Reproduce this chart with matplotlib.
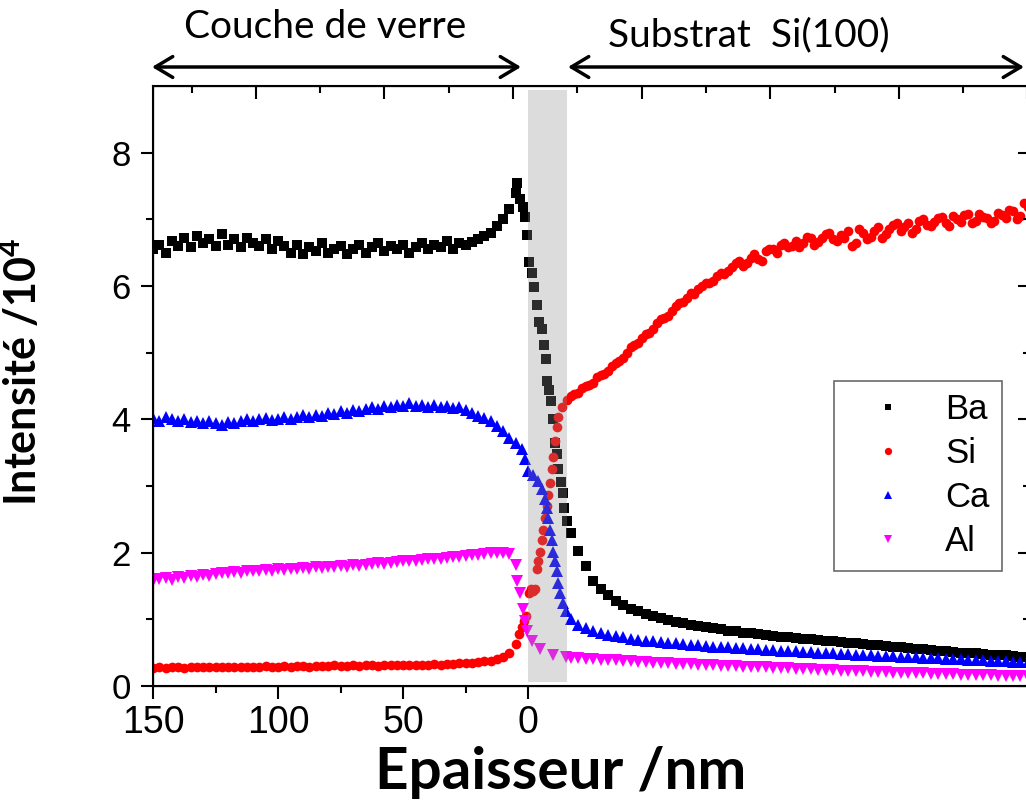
import numpy as np
import matplotlib
matplotlib.use('Agg')
import matplotlib.pyplot as plt
from matplotlib.ticker import FixedLocator, NullFormatter

plt.rcParams['font.family'] = ['Liberation Sans', 'DejaVu Sans']
plt.rcParams['mathtext.default'] = 'regular'

# depth positions (nm): glass side is positive, substrate side negative
x_glass = np.arange(150, 4, -2.5)        # 150 ... 5  (59 points)
x_sub = np.arange(-17, -201, -3)         # -17 ... -200 (62 points)

# ---- Ba ----
ba_glass = [6.55, 6.62, 6.50, 6.68, 6.60, 6.72, 6.58, 6.75, 6.65, 6.70,
            6.60, 6.78, 6.62, 6.70, 6.58, 6.72, 6.65, 6.60, 6.70, 6.55,
            6.68, 6.60, 6.50, 6.62, 6.48, 6.58, 6.52, 6.65, 6.50, 6.55,
            6.60, 6.48, 6.56, 6.62, 6.50, 6.58, 6.64, 6.52, 6.60, 6.55,
            6.62, 6.50, 6.58, 6.65, 6.55, 6.62, 6.58, 6.68, 6.55, 6.65,
            6.62, 6.66, 6.70, 6.75, 6.80, 6.90, 7.00, 7.15, 7.40]
x_ba_mid = [4.5, 3.2, 2.1, 1.2, 0.3, -0.5, -1.6, -2.4, -3.5, -4.5, -5.5, -6.4,
            -7.2, -7.7, -8.4, -9.1, -9.9, -10.8, -11.5, -12.1, -13.1, -13.9,
            -14.5, -15.7]
ba_mid = [7.54, 7.31, 7.19, 7.03, 6.77, 6.36, 6.20, 5.99, 5.71, 5.46, 5.36, 5.11,
          4.91, 4.58, 4.44, 4.28, 4.01, 3.64, 3.48, 3.26, 3.06, 2.90,
          2.67, 2.47]
ba_sub = [2.30, 2.02, 1.80, 1.58, 1.45, 1.36, 1.28, 1.22, 1.16, 1.12,
          1.08, 1.05, 1.02, 0.99, 0.96, 0.94, 0.92, 0.90, 0.89, 0.87,
          0.85, 0.83, 0.82, 0.80, 0.79, 0.78, 0.77, 0.75, 0.74, 0.73,
          0.72, 0.71, 0.70, 0.69, 0.68, 0.67, 0.66, 0.65, 0.64, 0.63,
          0.62, 0.61, 0.60, 0.59, 0.58, 0.57, 0.56, 0.55, 0.54, 0.53,
          0.52, 0.51, 0.50, 0.50, 0.49, 0.48, 0.47, 0.46, 0.46, 0.45,
          0.44, 0.43]

# ---- Si ----
si_glass = [0.27, 0.28, 0.27, 0.28, 0.28, 0.27, 0.28, 0.28, 0.28, 0.29,
            0.28, 0.29, 0.28, 0.29, 0.29, 0.28, 0.29, 0.29, 0.30, 0.29,
            0.29, 0.30, 0.29, 0.30, 0.30, 0.29, 0.30, 0.30, 0.30, 0.31,
            0.30, 0.30, 0.31, 0.30, 0.31, 0.31, 0.30, 0.31, 0.31, 0.32,
            0.31, 0.32, 0.31, 0.32, 0.32, 0.33, 0.32, 0.33, 0.33, 0.34,
            0.34, 0.35, 0.36, 0.37, 0.38, 0.40, 0.43, 0.50, 0.63]
x_si_mid = [3.5, 2.5, 1.5, 0.8, -0.3, -1.2, -2.0, -2.8, -3.5, -4.1, -4.8, -5.5,
            -6.1, -6.8, -7.5, -8.1, -8.8, -9.5, -10.1, -10.8, -11.5, -12.1,
            -13.5, -15.5]
si_mid = [0.78, 0.88, 0.98, 1.05, 1.40, 1.45, 1.42, 1.46, 1.75, 1.87, 2.01, 2.19,
          2.34, 2.52, 2.70, 2.87, 3.05, 3.26, 3.43, 3.67, 3.88, 4.03,
          4.18, 4.29]
si_sub = [4.35, 4.40, 4.50, 4.55, 4.66, 4.72, 4.85, 4.92, 5.08, 5.15,
          5.28, 5.35, 5.50, 5.55, 5.70, 5.76, 5.90, 5.95, 6.05, 6.08,
          6.20, 6.22, 6.35, 6.30, 6.42, 6.40, 6.52, 6.55, 6.62, 6.58,
          6.68, 6.64, 6.72, 6.66, 6.78, 6.70, 6.76, 6.82, 6.65, 6.80,
          6.74, 6.88, 6.78, 6.92, 6.82, 6.95, 6.86, 7.00, 6.90, 7.02,
          6.94, 7.05, 6.96, 7.08, 6.98, 7.04, 6.95, 7.10, 7.02, 7.12,
          7.05, 7.18]
# second, interleaved set of Si readings in the substrate (noisy cloud)
si_sub2 = [4.38, 4.47, 4.52, 4.63, 4.68, 4.80, 4.88, 5.00, 5.12, 5.22,
           5.30, 5.45, 5.52, 5.62, 5.74, 5.82, 5.88, 6.00, 6.04, 6.15,
           6.18, 6.28, 6.38, 6.34, 6.48, 6.38, 6.56, 6.50, 6.65, 6.60,
           6.58, 6.74, 6.62, 6.72, 6.80, 6.68, 6.72, 6.60, 6.86, 6.70,
           6.82, 6.72, 6.86, 6.94, 6.88, 6.80, 6.98, 6.92, 6.96, 7.04,
           6.90, 7.00, 7.06, 6.95, 7.08, 7.02, 6.98, 7.06, 7.14, 7.00,
           7.25]
x_si_sub2 = -18.5 - 3 * np.arange(len(si_sub2))

# ---- Ca ----
ca_glass = [4.02, 3.98, 4.04, 4.00, 3.97, 4.00, 3.96, 3.98, 3.94, 3.97,
            3.95, 3.92, 3.96, 3.94, 3.98, 4.00, 3.97, 4.00, 4.02, 3.99,
            4.01, 4.03, 4.00, 4.04, 4.06, 4.03, 4.07, 4.05, 4.09, 4.08,
            4.12, 4.10, 4.14, 4.12, 4.16, 4.18, 4.15, 4.20, 4.18, 4.22,
            4.20, 4.24, 4.20, 4.22, 4.19, 4.21, 4.18, 4.20, 4.17, 4.18,
            4.14, 4.10, 4.05, 4.02, 3.98, 3.90, 3.82, 3.72, 3.64]
x_ca_mid = [2.5, 1.2, -0.1, -2.1, -4.1, -5.5, -6.8, -7.5, -8.1, -8.8, -9.5,
            -10.1, -10.8, -11.5, -12.1, -12.8, -13.9, -15.2]
ca_mid = [3.56, 3.40, 3.23, 3.17, 3.08, 2.96, 2.81, 2.67, 2.52, 2.34, 2.19,
          2.01, 1.87, 1.72, 1.54, 1.39, 1.24, 1.12]
ca_sub = [1.00, 0.92, 0.87, 0.83, 0.80, 0.77, 0.75, 0.73, 0.71, 0.69,
          0.68, 0.67, 0.66, 0.65, 0.64, 0.63, 0.62, 0.61, 0.60, 0.59,
          0.585, 0.58, 0.57, 0.565, 0.56, 0.55, 0.545, 0.54, 0.53, 0.525,
          0.52, 0.51, 0.505, 0.50, 0.495, 0.49, 0.48, 0.475, 0.47, 0.465,
          0.46, 0.455, 0.45, 0.445, 0.44, 0.435, 0.43, 0.425, 0.42, 0.415,
          0.41, 0.405, 0.40, 0.395, 0.39, 0.385, 0.38, 0.375, 0.37, 0.365,
          0.36, 0.355]

# ---- Al ----
al_glass = [1.58, 1.60, 1.62, 1.59, 1.63, 1.62, 1.65, 1.64, 1.66, 1.65,
            1.68, 1.70, 1.69, 1.71, 1.70, 1.72, 1.73, 1.72, 1.74, 1.73,
            1.75, 1.74, 1.76, 1.75, 1.77, 1.76, 1.78, 1.77, 1.79, 1.78,
            1.80, 1.79, 1.81, 1.80, 1.82, 1.83, 1.84, 1.83, 1.85, 1.86,
            1.87, 1.88, 1.87, 1.89, 1.90, 1.91, 1.90, 1.92, 1.93, 1.94,
            1.95, 1.96, 1.97, 1.98, 1.99, 2.00, 1.99, 1.98, 1.82]
x_al_mid = [4.3, 3.2, 2.1, 1.2, 0.3, -1.5, -4.8, -10.1, -15.0]
al_mid = [1.57, 1.39, 1.16, 0.98, 0.83, 0.68, 0.56, 0.47, 0.43]
al_sub = [0.42, 0.415, 0.41, 0.40, 0.395, 0.39, 0.385, 0.38, 0.37, 0.36,
          0.355, 0.35, 0.345, 0.34, 0.335, 0.33, 0.325, 0.32, 0.315, 0.31,
          0.305, 0.30, 0.295, 0.29, 0.285, 0.28, 0.28, 0.275, 0.27, 0.265,
          0.26, 0.255, 0.25, 0.245, 0.24, 0.235, 0.23, 0.225, 0.22, 0.22,
          0.215, 0.21, 0.205, 0.20, 0.20, 0.195, 0.19, 0.19, 0.185, 0.18,
          0.18, 0.175, 0.17, 0.17, 0.165, 0.16, 0.16, 0.155, 0.15, 0.15,
          0.145, 0.14]

series = [
    ('Ba', [x_glass, x_ba_mid, x_sub], [ba_glass, ba_mid, ba_sub], 's', 'black', 6.5),
    ('Si', [x_glass, x_si_mid, x_sub, x_si_sub2],
     [si_glass, si_mid, si_sub, si_sub2], 'o', 'red', 7.0),
    ('Ca', [x_glass, x_ca_mid, x_sub], [ca_glass, ca_mid, ca_sub], '^', 'blue', 8.0),
    ('Al', [x_glass, x_al_mid, x_sub], [al_glass, al_mid, al_sub], 'v', 'magenta', 8.0),
]

fig = plt.figure(figsize=(10.26, 8.06), dpi=100)
ax = fig.add_axes([153/1026, 120/806, 877/1026, 600/806])

for name, xs, ys, mk, col, ms in series:
    ax.plot(np.concatenate(xs), np.concatenate(ys), linestyle='none', marker=mk,
            color=col, markersize=ms, markeredgewidth=0, label=name)

# interface zone
ax.axvspan(0, -15.6, ymin=0.007, ymax=0.993, color='#8e8e8e', alpha=0.31,
           lw=0, zorder=5)

ax.set_xlim(150, -200.8)
ax.set_ylim(0, 9)
ax.xaxis.set_major_locator(FixedLocator([150, 100, 50, 0]))
ax.xaxis.set_minor_locator(FixedLocator([125, 75, 25]))
ax.yaxis.set_major_locator(FixedLocator([0, 2, 4, 6, 8]))
ax.yaxis.set_minor_locator(FixedLocator([1, 3, 5, 7]))
ax.tick_params(which='major', direction='out', length=9, width=1.5)
ax.tick_params(which='minor', direction='out', length=5, width=1.5)
ax.tick_params(axis='x', labelsize=27, pad=5)
ax.tick_params(axis='y', labelsize=25, pad=7)
for sp in ax.spines.values():
    sp.set_linewidth(1.5)

# top ticks (independent scale, no labels)
ax_t = ax.twiny()
ax_t.set_xlim(-0.8, 6.02)
ax_t.xaxis.set_major_locator(FixedLocator(np.arange(0, 7)))
ax_t.xaxis.set_minor_locator(FixedLocator(np.arange(-0.5, 6, 1)))
ax_t.xaxis.set_major_formatter(NullFormatter())
ax_t.tick_params(which='major', direction='in', length=9, width=1.5)
ax_t.tick_params(which='minor', direction='in', length=5, width=1.5)

# right ticks
ax_r = ax.twinx()
ax_r.set_ylim(0, 9)
ax_r.yaxis.set_major_locator(FixedLocator([0, 2, 4, 6, 8]))
ax_r.yaxis.set_minor_locator(FixedLocator([1, 3, 5, 7]))
ax_r.yaxis.set_major_formatter(NullFormatter())
ax_r.tick_params(which='major', direction='in', length=9, width=1.5)
ax_r.tick_params(which='minor', direction='in', length=5, width=1.5)

ax.set_xlabel('Epaisseur /nm', fontsize=42, fontweight='bold', family='Lato')
ax.xaxis.set_label_coords((561 - 153) / 877, (686 - 746) / 600)
ax.set_ylabel('Intensité /10$^4$', fontsize=31, fontweight='bold', family='Lato')
ax.yaxis.set_label_coords((44 - 153) / 877, (686 - 372) / 600)

handles, labels = ax.get_legend_handles_labels()
leg = ax_r.legend(handles, labels, loc='upper left',
                  bbox_to_anchor=(834/1026, 1 - 381/806),
                  bbox_transform=fig.transFigure, fontsize=25, frameon=True,
                  fancybox=False, edgecolor='#444444', borderaxespad=0,
                  handlelength=2.4, handletextpad=0.45, labelspacing=0.32,
                  borderpad=0.35, markerscale=0.75)
leg.get_frame().set_linewidth(1.2)

# top annotations
arrow = dict(arrowstyle='<->,head_length=0.5,head_width=0.3', lw=2.5,
             color='black', shrinkA=0, shrinkB=0, mutation_scale=25)
fig.add_artist(plt.Annotation('', xy=(521/1026, 1 - 67/806),
                              xytext=(152/1026, 1 - 67/806),
                              xycoords='figure fraction', arrowprops=arrow))
fig.add_artist(plt.Annotation('', xy=(1024/1026, 1 - 67/806),
                              xytext=(568/1026, 1 - 67/806),
                              xycoords='figure fraction', arrowprops=arrow))
fig.text(325/1026, 1 - 27/806, 'Couche de verre', fontsize=28, family='Lato',
         ha='center', va='center')
fig.text(749/1026, 1 - 35/806, 'Substrat  Si(100)', fontsize=28, family='Lato',
         ha='center', va='center')

fig.savefig('out.png', dpi=100)
